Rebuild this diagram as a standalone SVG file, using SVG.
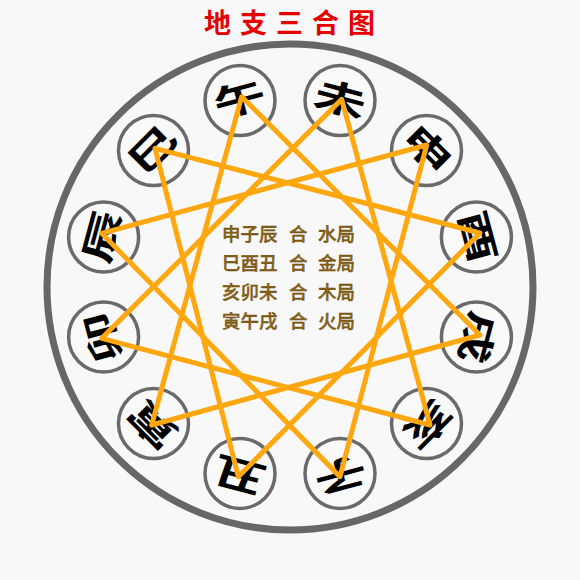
<svg xmlns="http://www.w3.org/2000/svg" width="580" height="580" viewBox="0 0 580 580">
<style>
.title{font-family:"Noto Sans CJK SC","Noto Sans CJK TC",sans-serif;font-size:27px;font-weight:700;fill:#e60000;letter-spacing:9px}
.ring{fill:none;stroke:#676767;stroke-width:7}
.node circle{fill:#f9f9f9;stroke:#6a6a6a;stroke-width:3.5}
.node text{font-family:"Noto Sans CJK SC","Noto Sans CJK TC",sans-serif;font-size:36px;font-weight:700;fill:#000;text-anchor:middle;dominant-baseline:central}
.tri{fill:none;stroke:#FFA70F;stroke-width:5;stroke-linejoin:round;stroke-linecap:round}
.info{font-family:"Noto Sans CJK SC","Noto Sans CJK TC",sans-serif;font-size:18.5px;font-weight:500;fill:#8a6515;stroke:#5a3f08;stroke-width:0.35;dominant-baseline:central}
</style>
<rect width="580" height="580" fill="#f8f8f8"/>
<text class="title" x="204" y="33">地支三合图</text>
<circle class="ring" cx="290" cy="287" r="243"/>
<g id="nodes">
<g id="n-wu" class="node"><circle cx="240.0" cy="100.6" r="35"/><text transform="translate(240.0,100.6) rotate(-15) scale(1.45,1)" y="-4">午</text></g>
<g id="n-wei" class="node"><circle cx="340.0" cy="100.6" r="35"/><text transform="translate(340.0,100.6) rotate(15) scale(1.45,1)" y="-4">未</text></g>
<g id="n-shen" class="node"><circle cx="426.5" cy="150.5" r="35"/><text transform="translate(426.5,150.5) rotate(45) scale(1.45,1)" y="-4">申</text></g>
<g id="n-you" class="node"><circle cx="476.4" cy="237.0" r="35"/><text transform="translate(476.4,237.0) rotate(75) scale(1.45,1)" y="-4">酉</text></g>
<g id="n-xu" class="node"><circle cx="476.4" cy="337.0" r="35"/><text transform="translate(476.4,337.0) rotate(105) scale(1.45,1)" y="-4">戌</text></g>
<g id="n-hai" class="node"><circle cx="426.5" cy="423.5" r="35"/><text transform="translate(426.5,423.5) rotate(135) scale(1.45,1)" y="-4">亥</text></g>
<g id="n-zi" class="node"><circle cx="340.0" cy="473.4" r="35"/><text transform="translate(340.0,473.4) rotate(165) scale(1.45,1)" y="-4">子</text></g>
<g id="n-chou" class="node"><circle cx="240.0" cy="473.4" r="35"/><text transform="translate(240.0,473.4) rotate(195) scale(1.45,1)" y="-4">丑</text></g>
<g id="n-yin" class="node"><circle cx="153.5" cy="423.5" r="35"/><text transform="translate(153.5,423.5) rotate(225) scale(1.45,1)" y="-4">寅</text></g>
<g id="n-mao" class="node"><circle cx="103.6" cy="337.0" r="35"/><text transform="translate(103.6,337.0) rotate(255) scale(1.45,1)" y="-4">卯</text></g>
<g id="n-chen" class="node"><circle cx="103.6" cy="237.0" r="35"/><text transform="translate(103.6,237.0) rotate(285) scale(1.45,1)" y="-4">辰</text></g>
<g id="n-si" class="node"><circle cx="153.5" cy="150.5" r="35"/><text transform="translate(153.5,150.5) rotate(315) scale(1.45,1)" y="-4">巳</text></g>
</g>
<g id="connectors">
<polygon class="tri" points="151.7,425 241.7,96.7 480,335"/>
<polygon class="tri" points="426.7,145 340,476.7 101.7,233.3"/>
<polygon class="tri" points="155,148.3 480,233 238.3,476.7"/>
<polygon class="tri" points="430,425 101.7,338.3 341.7,99.3"/>
</g>
<g id="legend">
<text class="info" y="233"><tspan x="222">申子辰</tspan><tspan x="289">合</tspan><tspan x="318">水局</tspan></text>
<text class="info" y="262"><tspan x="222">巳酉丑</tspan><tspan x="289">合</tspan><tspan x="318">金局</tspan></text>
<text class="info" y="291"><tspan x="222">亥卯未</tspan><tspan x="289">合</tspan><tspan x="318">木局</tspan></text>
<text class="info" y="320"><tspan x="222">寅午戌</tspan><tspan x="289">合</tspan><tspan x="318">火局</tspan></text>
</g>
</svg>
